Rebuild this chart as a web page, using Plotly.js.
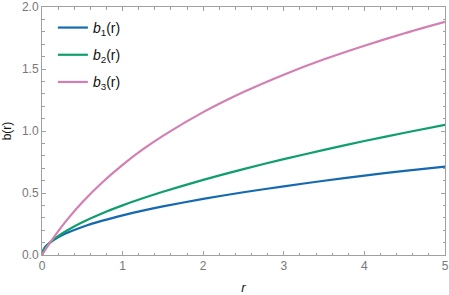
<!DOCTYPE html>
<html>
<head>
<meta charset="utf-8">
<script src="https://cdn.plot.ly/plotly-3.0.1.min.js"></script>
<style>html,body{margin:0;padding:0;background:#fff;}#plot{width:449px;height:295px;}</style>
</head>
<body>
<div id="plot"></div>
<script>
var r  = [0, 0.02, 0.05, 0.1, 0.2, 0.3, 0.5, 0.75, 1, 1.25, 1.5, 2, 2.5, 3, 3.5, 4, 4.5, 5];
var b1 = [0, 0.045, 0.072, 0.10, 0.143, 0.175, 0.226, 0.277, 0.32, 0.358, 0.392, 0.453, 0.506, 0.554, 0.599, 0.64, 0.679, 0.712];
var b2 = [0, 0.038, 0.066, 0.10, 0.152, 0.194, 0.264, 0.337, 0.40, 0.457, 0.51, 0.606, 0.693, 0.773, 0.848, 0.919, 0.986, 1.05];
var b3 = [0, 0.021, 0.051, 0.10, 0.191, 0.275, 0.425, 0.587, 0.727, 0.851, 0.961, 1.152, 1.314, 1.454, 1.578, 1.688, 1.788, 1.88];
var names = ['<i>b</i><sub>1</sub>(r)', '<i>b</i><sub>2</sub>(r)', '<i>b</i><sub>3</sub>(r)'];
var colors = ['#1469b0', '#0f9e6e', '#d47fb1'];
var series = [b1, b2, b3];

var traces = series.map(function (s, i) {
  return {
    x: r, y: s, type: 'scatter', mode: 'lines', name: names[i],
    legendgroup: 'g' + i,
    line: {color: colors[i], width: 2.2, shape: 'spline', smoothing: 0.6}
  };
});

var axisCommon = {
  showgrid: false, zeroline: false, showline: true, linecolor: '#a0a0a0', linewidth: 1,
  mirror: 'ticks', ticks: 'inside', ticklen: 4, tickcolor: '#a0a0a0', tickwidth: 1,
  tickfont: {family: 'Liberation Sans, Arial, sans-serif', size: 12, color: '#777777'}
};

var layout = {
  width: 449, height: 295,
  margin: {l: 42, r: 4, t: 7, b: 40},
  paper_bgcolor: '#ffffff', plot_bgcolor: '#ffffff',
  showlegend: true,
  legend: {
    x: 0.027, y: 0.98, xanchor: 'left', yanchor: 'top',
    bgcolor: 'rgba(255,255,255,0)', borderwidth: 0,
    tracegroupgap: 6,
    font: {family: 'Liberation Sans, Arial, sans-serif', size: 14, color: '#111111'}
  },
  xaxis: Object.assign({}, axisCommon, {
    range: [0, 5], dtick: 1, tick0: 0,
    minor: {dtick: 0.2, ticks: 'inside', ticklen: 2.5, tickcolor: '#a0a0a0', showgrid: false},
    title: {text: '<i>r</i>', standoff: 12, font: {family: 'Liberation Sans, Arial, sans-serif', size: 13, color: '#111111'}}
  }),
  yaxis: Object.assign({}, axisCommon, {
    range: [0, 2], dtick: 0.5, tick0: 0, tickformat: '.1f',
    minor: {dtick: 0.1, ticks: 'inside', ticklen: 2.5, tickcolor: '#a0a0a0', showgrid: false},
    title: {text: 'b(r)', standoff: 8, font: {family: 'Liberation Sans, Arial, sans-serif', size: 12, color: '#111111'}}
  })
};

Plotly.newPlot('plot', traces, layout, {displayModeBar: false, staticPlot: true});
</script>
</body>
</html>
